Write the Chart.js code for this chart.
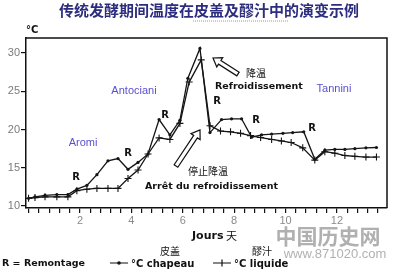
<!DOCTYPE html>
<html>
<head>
<meta charset="utf-8">
<script src="https://cdn.jsdelivr.net/npm/chart.js@4.4.1/dist/chart.umd.min.js"></script>
<style>
  html, body { margin: 0; padding: 0; background: #fff; }
  canvas { display: block; }
</style>
</head>
<body>
<canvas id="chart" width="397" height="272"></canvas>
<script>
// days and temperatures
const daysChapeau = [0, 0.25, 0.64, 1.1, 1.53, 1.88, 2.27, 2.66, 3.09, 3.48, 3.87, 4.26, 4.65, 5.08, 5.5, 5.89, 6.2, 6.67, 7.06, 7.51, 7.9, 8.29, 8.68, 9.07, 9.46, 9.9, 10.28, 10.71, 11.14, 11.53, 11.92, 12.31, 12.7, 13.13, 13.54];
const tempChapeau = [11.0, 11.2, 11.4, 11.5, 11.5, 12.2, 12.7, 14.1, 15.9, 16.2, 14.8, 15.7, 16.8, 21.3, 19.3, 21.2, 26.7, 30.6, 19.6, 21.3, 21.4, 21.4, 19.0, 19.3, 19.4, 19.5, 19.6, 19.7, 16.1, 17.3, 17.4, 17.4, 17.5, 17.6, 17.65];

const daysLiquide = [0, 0.25, 0.64, 1.1, 1.53, 1.88, 2.27, 2.66, 3.09, 3.48, 3.87, 4.26, 4.65, 5.08, 5.5, 5.89, 6.25, 6.72, 7.06, 7.47, 7.86, 8.25, 8.64, 9.03, 9.46, 9.84, 10.22, 10.67, 11.14, 11.53, 11.92, 12.31, 12.7, 13.13, 13.54];
const tempLiquide = [11.0, 11.1, 11.2, 11.2, 11.2, 12.0, 12.2, 12.3, 12.3, 12.3, 13.6, 14.7, 16.8, 18.9, 18.7, 20.8, 26.2, 29.1, 20.5, 19.8, 19.7, 19.5, 19.2, 18.95, 18.7, 18.5, 18.3, 17.6, 16.0, 17.1, 16.9, 16.6, 16.5, 16.4, 16.4];

const yTickValues = [10, 15, 20, 25, 30];
const xLabelValues = [2, 4, 6, 8, 10, 12];

const toPoints = (xs, ys) => xs.map((x, i) => ({ x: x, y: ys[i] }));

const BOLD = "'DejaVu Sans', sans-serif";
const SANS = "'Liberation Sans', Arial, sans-serif";
const CJK = "'Noto Sans CJK SC', sans-serif";

function drawArrow(ctx, x1, y1, x2, y2) {
    // outlined arrow, tail (x1,y1) -> tip (x2,y2)
    const dx = x2 - x1, dy = y2 - y1;
    const len = Math.hypot(dx, dy);
    const ux = dx / len, uy = dy / len;
    const px = -uy, py = ux;
    const shaft = 2.2, head = 5.5, headLen = 8;
    const nx = x2 - ux * headLen, ny = y2 - uy * headLen;
    ctx.beginPath();
    ctx.moveTo(x1 + px * shaft, y1 + py * shaft);
    ctx.lineTo(nx + px * shaft, ny + py * shaft);
    ctx.lineTo(nx + px * head, ny + py * head);
    ctx.lineTo(x2, y2);
    ctx.lineTo(nx - px * head, ny - py * head);
    ctx.lineTo(nx - px * shaft, ny - py * shaft);
    ctx.lineTo(x1 - px * shaft, y1 - py * shaft);
    ctx.closePath();
    ctx.fillStyle = '#fff';
    ctx.fill();
    ctx.strokeStyle = '#111';
    ctx.lineWidth = 1.2;
    ctx.stroke();
}

const annotations = {
    id: 'annotations',
    afterDraw(chart) {
        const ctx = chart.ctx;
        const a = chart.chartArea;
        ctx.save();

        // top and right frame
        ctx.strokeStyle = '#111';
        ctx.lineWidth = 1.5;
        ctx.beginPath();
        ctx.moveTo(a.left, a.top);
        ctx.lineTo(a.right, a.top);
        ctx.lineTo(a.right, a.bottom);
        ctx.stroke();

        // title
        ctx.textBaseline = 'middle';
        ctx.textAlign = 'center';
        ctx.fillStyle = '#2d2d7f';
        ctx.font = "bold 15px " + CJK;
        ctx.fillText('传统发酵期间温度在皮盖及醪汁中的演变示例', 209, 10);
        ctx.strokeStyle = '#7cb36b';
        ctx.lineWidth = 1;
        ctx.setLineDash([1, 1]);
        ctx.beginPath();
        ctx.moveTo(193, 21);
        ctx.lineTo(288, 21);
        ctx.stroke();
        ctx.setLineDash([]);

        // unit
        ctx.textAlign = 'left';
        ctx.fillStyle = '#111';
        ctx.font = "bold 10px " + BOLD;
        ctx.fillText('°C', 26, 30);

        // coloured phase labels
        ctx.textAlign = 'center';
        ctx.fillStyle = '#5a4fd0';
        ctx.font = "11px " + SANS;
        ctx.fillText('Antociani', 134, 91);
        ctx.fillText('Aromi', 83, 143);
        ctx.fillText('Tannini', 334, 89);

        // R markers
        ctx.fillStyle = '#111';
        ctx.font = "bold 10px " + BOLD;
        [[76, 177], [128, 153], [165, 115], [217, 101], [256, 120], [312, 128]].forEach(p => ctx.fillText('R', p[0], p[1]));

        // cooling notes
        ctx.font = "10px " + CJK;
        ctx.fillText('降温', 256, 73);
        ctx.fillText('停止降温', 208, 171);
        ctx.font = "bold 9.5px " + BOLD;
        ctx.textAlign = 'left';
        ctx.fillText('Refroidissement', 215, 87);
        ctx.fillText('Arrêt du refroidissement', 145, 187);
        drawArrow(ctx, 238, 74, 213, 58);
        drawArrow(ctx, 176, 166, 200, 130);

        // watermark
        ctx.textAlign = 'center';
        ctx.fillStyle = 'rgba(150,150,150,0.75)';
        ctx.font = "bold 21px " + CJK;
        ctx.fillText('中国历史网', 328, 236);
        ctx.font = "13px " + SANS;
        ctx.fillText('www.871020.com', 335, 254);

        // axis title
        ctx.fillStyle = '#111';
        ctx.textAlign = 'left';
        ctx.font = "bold 11px " + BOLD;
        ctx.fillText('Jours', 192, 236);
        ctx.font = "11px " + CJK;
        ctx.fillText('天', 226, 236);

        // legend
        ctx.textAlign = 'center';
        ctx.font = "10px " + CJK;
        ctx.fillText('皮盖', 170, 251);
        ctx.fillText('醪汁', 262, 251);
        ctx.textAlign = 'left';
        ctx.font = "bold 9.5px " + BOLD;
        ctx.fillText('R = Remontage', 2, 264);
        ctx.font = "bold 10px " + BOLD;
        ctx.fillText('°C chapeau', 131, 264);
        ctx.fillText('°C liquide', 234, 264);
        ctx.strokeStyle = '#111';
        ctx.lineWidth = 1.2;
        ctx.beginPath();
        ctx.moveTo(110, 263); ctx.lineTo(128, 263);
        ctx.moveTo(213, 263); ctx.lineTo(231, 263);
        ctx.moveTo(222, 259.5); ctx.lineTo(222, 266.5);
        ctx.stroke();
        ctx.beginPath();
        ctx.arc(119, 263, 1.8, 0, Math.PI * 2);
        ctx.fill();

        ctx.restore();
    }
};

const ctx = document.getElementById('chart');

new Chart(ctx, {
    type: 'line',
    data: {
        datasets: [{
            label: '°C chapeau',
            data: toPoints(daysChapeau, tempChapeau),
            borderColor: '#151515',
            borderWidth: 1.3,
            pointStyle: 'circle',
            pointRadius: 1.6,
            pointBackgroundColor: '#151515',
            pointBorderWidth: 0,
            tension: 0
        }, {
            label: '°C liquide',
            data: toPoints(daysLiquide, tempLiquide),
            borderColor: '#151515',
            borderWidth: 1.3,
            pointStyle: 'cross',
            pointRadius: 3.5,
            pointBorderColor: '#151515',
            pointBorderWidth: 1.1,
            tension: 0
        }]
    },
    options: {
        responsive: false,
        animation: false,
        layout: {
            padding: { top: 38, right: 10, left: 0, bottom: 0 }
        },
        plugins: {
            legend: { display: false },
            tooltip: { enabled: false },
            title: { display: false }
        },
        scales: {
            x: {
                type: 'linear',
                min: -0.1,
                max: 13.95,
                afterBuildTicks: scale => {
                    const ticks = [];
                    for (let i = 0; i <= 34; i++) ticks.push({ value: Math.round(i * 4) / 10 });
                    scale.ticks = ticks;
                },
                afterFit: scale => { scale.height = 64; },
                grid: {
                    drawOnChartArea: false,
                    tickLength: 5,
                    color: '#111',
                    lineWidth: 1.2
                },
                border: { display: true, color: '#111', width: 1.5 },
                ticks: {
                    autoSkip: false,
                    maxRotation: 0,
                    padding: 1,
                    color: '#8a8a8a',
                    font: { size: 11, family: SANS },
                    callback: value => xLabelValues.includes(value) ? String(value) : ''
                }
            },
            y: {
                min: 9.74,
                max: 31.96,
                afterBuildTicks: scale => {
                    scale.ticks = yTickValues.map(v => ({ value: v }));
                },
                afterFit: scale => { scale.width = 26; },
                grid: {
                    drawOnChartArea: false,
                    tickLength: 5,
                    color: '#111',
                    lineWidth: 1.2
                },
                border: { display: true, color: '#111', width: 1.5 },
                ticks: {
                    padding: 1,
                    color: '#7a7a7a',
                    font: { size: 11, family: SANS }
                }
            }
        }
    },
    plugins: [annotations]
});
</script>
</body>
</html>
